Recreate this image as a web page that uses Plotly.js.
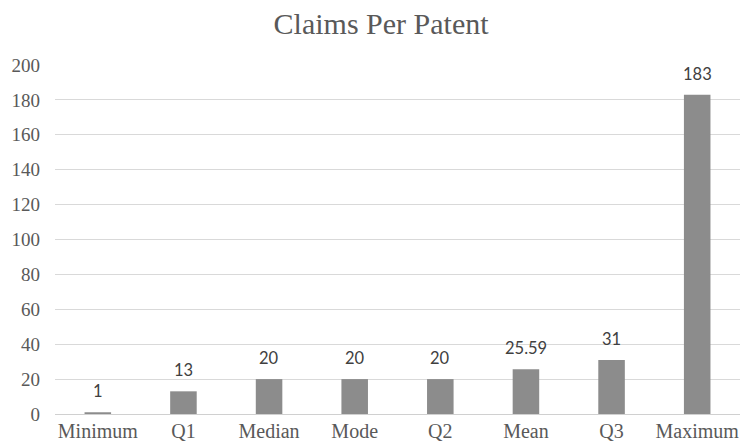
<!DOCTYPE html>
<html>
<head>
<meta charset="utf-8">
<script src="https://cdn.plot.ly/plotly-3.0.1.min.js"></script>
<style>html,body{margin:0;padding:0;background:#fff;}#chart{width:740px;height:444px;}</style>
</head>
<body>
<div id="chart"></div>
<script>
const categories = ["Minimum", "Q1", "Median", "Mode", "Q2", "Mean", "Q3", "Maximum"];
const values = [1, 13, 20, 20, 20, 25.59, 31, 183];
const valueLabels = ["1", "13", "20", "20", "20", "25.59", "31", "183"];
const yTicks = [0, 20, 40, 60, 80, 100, 120, 140, 160, 180, 200];

const serif = "'Liberation Serif', 'Times New Roman', serif";

const trace = {
  type: "bar",
  x: categories,
  y: values,
  marker: {color: "#8c8c8c"},
  hoverinfo: "none"
};

const annotations = categories.map((c, i) => ({
  x: c, y: values[i], xref: "x", yref: "y",
  text: valueLabels[i], showarrow: false,
  xanchor: "center", yanchor: "bottom", yshift: 9,
  font: {family: "Lato, 'Open Sans', sans-serif", size: 16.5, color: "#404040"}
}));

const layout = {
  width: 740, height: 444,
  margin: {l: 55, r: 0, t: 65, b: 30},
  paper_bgcolor: "#fff", plot_bgcolor: "#fff",
  bargap: 0.69,
  showlegend: false,
  annotations: annotations,
  title: {text: "Claims Per Patent", x: 0.515, xanchor: "center", y: 0.948, yanchor: "middle",
          font: {family: serif, size: 30, color: "#595959"}},
  xaxis: {type: "category", showgrid: false, showline: false, zeroline: false, ticks: "",
          ticklabelstandoff: 3,
          tickfont: {family: serif, size: 20, color: "#595959"}},
  yaxis: {range: [0, 200], tickvals: yTicks, ticktext: yTicks.map(String), showgrid: true,
          gridcolor: "#d9d9d9", gridwidth: 1, zeroline: true, zerolinecolor: "#d0d0d0", zerolinewidth: 1,
          showline: false, ticks: "", ticklabelstandoff: 14,
          tickfont: {family: serif, size: 19, color: "#595959"}}
};

Plotly.newPlot("chart", [trace], layout, {displayModeBar: false, staticPlot: true});
</script>
</body>
</html>
